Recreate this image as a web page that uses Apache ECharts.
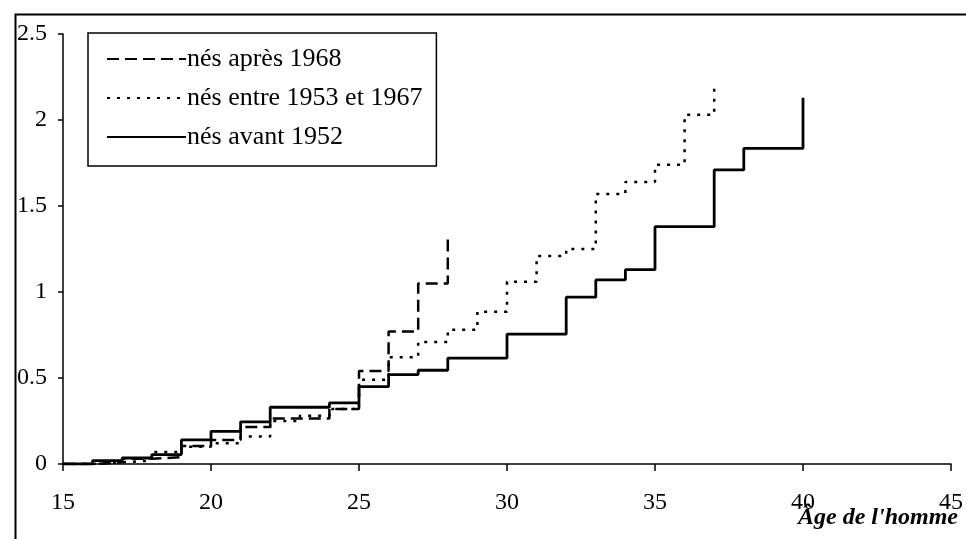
<!DOCTYPE html>
<html>
<head>
<meta charset="utf-8">
<script src="https://cdn.jsdelivr.net/npm/echarts@6/dist/echarts.min.js"></script>
<style>
html, body { margin: 0; padding: 0; background: #fff; }
#chart { width: 966px; height: 539px; }
</style>
</head>
<body>
<div id="chart"></div>
<script>
// noms des séries
var seriesNames = ['nés après 1968', 'nés entre 1953 et 1967', 'nés avant 1952'];

// [âge, valeur] - la valeur vaut à partir de cet âge
var apres1968 = [[15, 0], [16, 0.01], [17, 0.03], [18, 0.04], [19, 0.105], [20, 0.14], [21, 0.215],
                 [22, 0.265], [24, 0.32], [25, 0.54], [26, 0.77], [27, 1.05], [28, 1.34]];
var entre1953 = [[15, 0], [16, 0.01], [17, 0.02], [18, 0.07], [19, 0.1], [20, 0.12], [21, 0.16],
                 [22, 0.25], [23, 0.28], [24, 0.32], [25, 0.49], [26, 0.62], [27, 0.71], [28, 0.78],
                 [29, 0.885], [30, 1.06], [31, 1.21], [32, 1.25], [33, 1.57], [34, 1.64], [35, 1.74],
                 [36, 2.03], [37, 2.19]];
var avant1952 = [[15, 0], [16, 0.02], [17, 0.035], [18, 0.055], [19, 0.14], [20, 0.19], [21, 0.245],
                 [22, 0.33], [24, 0.355], [25, 0.45], [26, 0.52], [27, 0.545], [28, 0.615], [30, 0.755],
                 [32, 0.97], [33, 1.07], [34, 1.13], [35, 1.38], [37, 1.71], [38, 1.835], [40, 2.13]];

var xMin = 15, xMax = 45, xStep = 5;
var yMin = 0, yMax = 2.5, yStep = 0.5;
var xTitle = "Âge de l'homme";

var fontFam = '"Liberation Serif", "Times New Roman", serif';

var myChart = echarts.init(document.getElementById('chart'));

var option = {
    backgroundColor: '#fff',
    animation: false,
    textStyle: { fontFamily: fontFam, color: '#000' },
    grid: { left: 63, right: 12, top: 34, bottom: 75 },
    legend: {
        orient: 'vertical',
        left: 88,
        top: 33,
        data: seriesNames,
        itemWidth: 79,
        itemHeight: 14,
        itemGap: 13,
        padding: [13, 14, 16, 18],
        borderColor: '#000',
        borderWidth: 1.5,
        itemStyle: { opacity: 0 },
        textStyle: { fontFamily: fontFam, fontSize: 26, color: '#000', lineHeight: 26, padding: [0, 0, 0, -4] }
    },
    xAxis: {
        type: 'value',
        min: xMin,
        max: xMax,
        interval: xStep,
        splitLine: { show: false },
        axisLine: { lineStyle: { color: '#000', width: 1.5 } },
        axisTick: { length: 7, lineStyle: { color: '#000', width: 1.5 } },
        axisLabel: { margin: 27, fontSize: 24, color: '#000', fontFamily: fontFam }
    },
    yAxis: {
        type: 'value',
        min: yMin,
        max: yMax,
        interval: yStep,
        splitLine: { show: false },
        axisLine: { show: true, lineStyle: { color: '#000', width: 1.5 } },
        axisTick: { show: true, length: 5, lineStyle: { color: '#000', width: 1.5 } },
        axisLabel: { margin: 16, fontSize: 24, color: '#000', fontFamily: fontFam }
    },
    graphic: [
        {
            type: 'rect',
            left: 13, top: 12,
            shape: { width: 960, height: 560 },
            style: { fill: 'none', stroke: '#000', lineWidth: 2 },
            silent: true
        },
        {
            type: 'text',
            right: 8, top: 506,
            style: {
                text: xTitle,
                font: 'italic bold 24px ' + fontFam,
                fill: '#000'
            }
        }
    ],
    series: [
        {
            name: seriesNames[0],
            type: 'line',
            step: 'end',
            symbol: 'none',
            data: apres1968,
            lineStyle: { color: '#000', width: 2.5, type: [12, 6] },
            itemStyle: { color: '#000' }
        },
        {
            name: seriesNames[1],
            type: 'line',
            step: 'end',
            symbol: 'none',
            data: entre1953,
            lineStyle: { color: '#000', width: 2.5, type: [3, 7] },
            itemStyle: { color: '#000' }
        },
        {
            name: seriesNames[2],
            type: 'line',
            step: 'end',
            symbol: 'none',
            data: avant1952,
            lineStyle: { color: '#000', width: 2.8, type: 'solid' },
            itemStyle: { color: '#000' }
        }
    ]
};

myChart.setOption(option);
</script>
</body>
</html>
